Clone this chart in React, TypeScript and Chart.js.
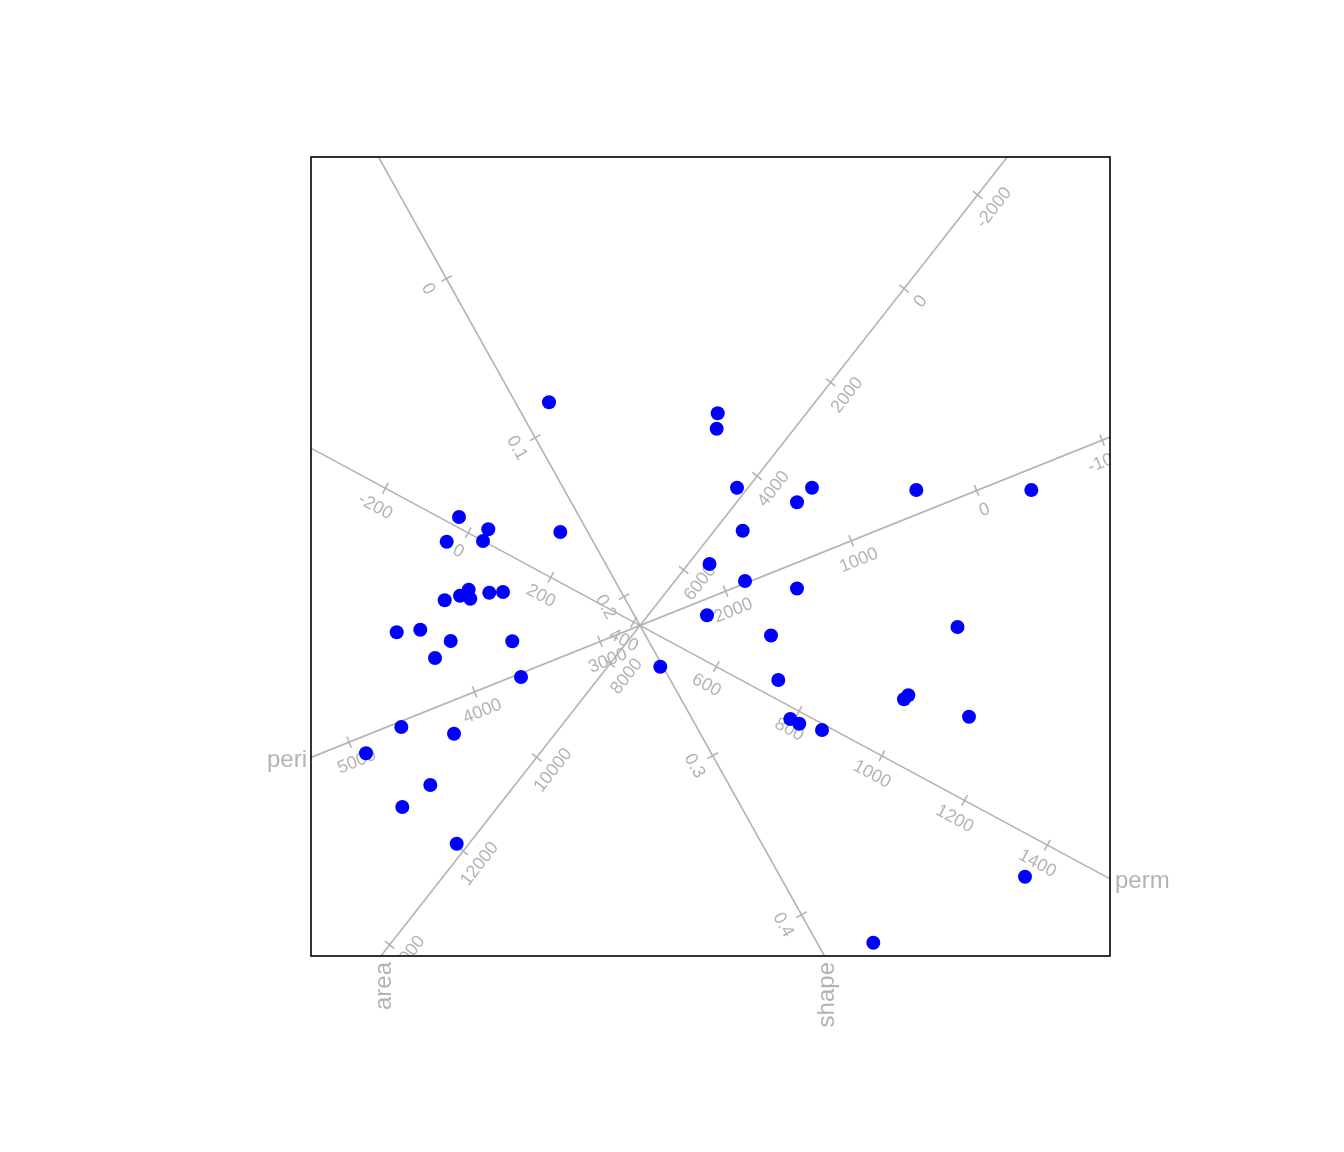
import React, { useEffect, useRef } from 'react';
import { Chart, registerables } from 'chart.js';

Chart.register(...registerables);

// Biplot scores of the 48 observations (plot units, origin at the axis crossing)
const pointX = [
  -0.91, 0.777, 0.767, 0.97, 1.72, 1.57, 2.763, 3.913, 1.027, -0.797,
  -1.81, -1.517, -1.933, -1.57, 0.695, 1.05, 1.57, -1.713, -1.8, -1.697,
  -1.953, -1.507, -1.37, 0.67, 1.31, 3.175, -2.433, -2.197, -1.893, -1.277,
  -2.05, 0.203, 1.383, -1.19, 2.683, 2.64, 3.29, 1.503, 1.593, 1.82,
  -2.387, -1.86, -2.74, -2.097, -2.377, -1.833, 3.85, 2.333,
];
const pointY = [
  2.232, 2.122, 1.968, 1.378, 1.378, 1.232, 1.355, 1.355, 0.948, 0.935,
  1.085, 0.962, 0.838, 0.845, 0.615, 0.445, 0.37, 0.358, 0.298, 0.268,
  0.252, 0.328, 0.335, 0.102, -0.1, -0.015, -0.068, -0.042, -0.155, -0.158,
  -0.325, -0.412, -0.545, -0.515, -0.698, -0.738, -0.912, -0.935, -0.982, -1.045,
  -1.015, -1.082, -1.277, -1.595, -1.815, -2.182, -2.512, -3.172,
];

// Calibrated variable axes
const axisNames = ['area', 'peri', 'shape', 'perm'];
const axisMeans = [7187.7, 2682.2, 0.2181, 415.45];
const axisDirX = [-3.675e-4, -1.255e-3, 8.875, 4.1375e-3];
const axisDirY = [-4.6875e-4, -5.033e-4, -15.9, -2.23e-3];
const axisTicks = [
  [-2000, 0, 2000, 4000, 6000, 8000, 10000, 12000, 14000],
  [-1000, 0, 1000, 2000, 3000, 4000, 5000],
  [0, 0.1, 0.2, 0.3, 0.4],
  [-200, 0, 200, 400, 600, 800, 1000, 1200, 1400],
];
const axisTickLabels = [
  ['-2000', '0', '2000', '4000', '6000', '8000', '10000', '12000', '14000'],
  ['-1000', '0', '1000', '2000', '3000', '4000', '5000'],
  ['0', '0.1', '0.2', '0.3', '0.4'],
  ['-200', '0', '200', '400', '600', '800', '1000', '1200', '1400'],
];

const X_MIN = -3.29;
const X_MAX = 4.7;
const Y_MIN = -3.305;
const Y_MAX = 4.685;

const GREY = '#b3b3b3';
const FONT = '"Liberation Sans", Arial, Helvetica, sans-serif';

function clipRange(dx: number, dy: number): [number, number] {
  let t0 = -Infinity;
  let t1 = Infinity;
  const dims: [number, number, number][] = [
    [dx, X_MIN, X_MAX],
    [dy, Y_MIN, Y_MAX],
  ];
  for (const [d, lo, hi] of dims) {
    if (d > 0) {
      t0 = Math.max(t0, lo / d);
      t1 = Math.min(t1, hi / d);
    } else if (d < 0) {
      t0 = Math.max(t0, hi / d);
      t1 = Math.min(t1, lo / d);
    }
  }
  return [t0, t1];
}

const biplotPlugin = {
  id: 'biplotAxes',
  beforeDatasetsDraw(chart: any) {
    const { ctx, chartArea, scales } = chart;
    const xs = scales.x;
    const ys = scales.y;
    ctx.save();
    ctx.beginPath();
    ctx.rect(chartArea.left, chartArea.top, chartArea.right - chartArea.left, chartArea.bottom - chartArea.top);
    ctx.clip();
    ctx.strokeStyle = GREY;
    ctx.fillStyle = GREY;
    ctx.lineWidth = 1.6;
    ctx.font = `18px ${FONT}`;
    ctx.textAlign = 'center';
    ctx.textBaseline = 'middle';
    for (let i = 0; i < axisNames.length; i++) {
      const ux0 = xs.getPixelForValue(axisDirX[i]) - xs.getPixelForValue(0);
      const uy0 = ys.getPixelForValue(axisDirY[i]) - ys.getPixelForValue(0);
      const len = Math.hypot(ux0, uy0);
      const ux = ux0 / len;
      const uy = uy0 / len;
      const tx = ux >= 0 ? ux : -ux;
      const ty = ux >= 0 ? uy : -uy;
      const nx = -ty;
      const ny = tx;
      const ang = Math.atan2(ty, tx);
      axisTicks[i].forEach((v, k) => {
        const off = v - axisMeans[i];
        const X = xs.getPixelForValue(off * axisDirX[i]);
        const Y = ys.getPixelForValue(off * axisDirY[i]);
        ctx.beginPath();
        ctx.moveTo(X - 6 * nx, Y - 6 * ny);
        ctx.lineTo(X + 6 * nx, Y + 6 * ny);
        ctx.stroke();
        ctx.save();
        ctx.translate(X + 21 * nx, Y + 21 * ny);
        ctx.rotate(ang);
        ctx.fillText(axisTickLabels[i][k], 0, 0);
        ctx.restore();
      });
    }
    ctx.restore();
  },
  afterDraw(chart: any) {
    const { ctx, chartArea, scales } = chart;
    const xs = scales.x;
    const ys = scales.y;
    ctx.save();
    ctx.fillStyle = GREY;
    ctx.font = `24px ${FONT}`;
    for (let i = 0; i < axisNames.length; i++) {
      const [, t1] = clipRange(axisDirX[i], axisDirY[i]);
      const dxv = t1 * axisDirX[i];
      const dyv = t1 * axisDirY[i];
      const X = xs.getPixelForValue(dxv);
      const Y = ys.getPixelForValue(dyv);
      const eps = 1e-6;
      ctx.save();
      if (Math.abs(dyv - Y_MIN) < eps) {
        ctx.translate(X + 3, Y + 6);
        ctx.rotate(-Math.PI / 2);
        ctx.textAlign = 'right';
        ctx.textBaseline = 'middle';
      } else if (Math.abs(dyv - Y_MAX) < eps) {
        ctx.translate(X + 3, Y - 6);
        ctx.rotate(-Math.PI / 2);
        ctx.textAlign = 'left';
        ctx.textBaseline = 'middle';
      } else if (Math.abs(dxv - X_MIN) < eps) {
        ctx.translate(X - 4, Y + 3);
        ctx.textAlign = 'right';
        ctx.textBaseline = 'middle';
      } else {
        ctx.translate(X + 5, Y + 3);
        ctx.textAlign = 'left';
        ctx.textBaseline = 'middle';
      }
      ctx.fillText(axisNames[i], 0, 0);
      ctx.restore();
    }
    ctx.strokeStyle = '#000000';
    ctx.lineWidth = 1.6;
    ctx.strokeRect(chartArea.left, chartArea.top, chartArea.right - chartArea.left, chartArea.bottom - chartArea.top);
    ctx.restore();
  },
};

export default function App() {
  const canvasRef = useRef<HTMLCanvasElement | null>(null);

  useEffect(() => {
    if (!canvasRef.current) return;
    const axisDatasets = axisNames.map((name, i) => {
      const [t0, t1] = clipRange(axisDirX[i], axisDirY[i]);
      return {
        type: 'line' as const,
        label: name,
        data: [
          { x: t0 * axisDirX[i], y: t0 * axisDirY[i] },
          { x: t1 * axisDirX[i], y: t1 * axisDirY[i] },
        ],
        borderColor: GREY,
        borderWidth: 1.6,
        pointRadius: 0,
        fill: false,
        showLine: true,
        order: 1,
      };
    });
    const chart = new Chart(canvasRef.current, {
      type: 'scatter',
      data: {
        datasets: [
          {
            label: 'obs',
            data: pointX.map((x, i) => ({ x, y: pointY[i] })),
            backgroundColor: '#0000ff',
            borderColor: '#0000ff',
            borderWidth: 0,
            pointRadius: 7,
            pointHoverRadius: 7,
            order: 0,
          },
          ...axisDatasets,
        ] as any,
      },
      options: {
        animation: false,
        responsive: false,
        maintainAspectRatio: false,
        events: [],
        layout: { padding: { left: 311, right: 234, top: 157, bottom: 196 } },
        plugins: { legend: { display: false }, tooltip: { enabled: false } },
        scales: {
          x: { type: 'linear', min: X_MIN, max: X_MAX, display: false },
          y: { type: 'linear', min: Y_MIN, max: Y_MAX, display: false },
        },
      },
      plugins: [biplotPlugin],
    });
    return () => chart.destroy();
  }, []);

  return (
    <div style={{ position: 'absolute', left: 0, top: 0, width: 1344, height: 1152, background: '#ffffff' }}>
      <canvas ref={canvasRef} width={1344} height={1152} style={{ width: 1344, height: 1152 }} />
    </div>
  );
}
